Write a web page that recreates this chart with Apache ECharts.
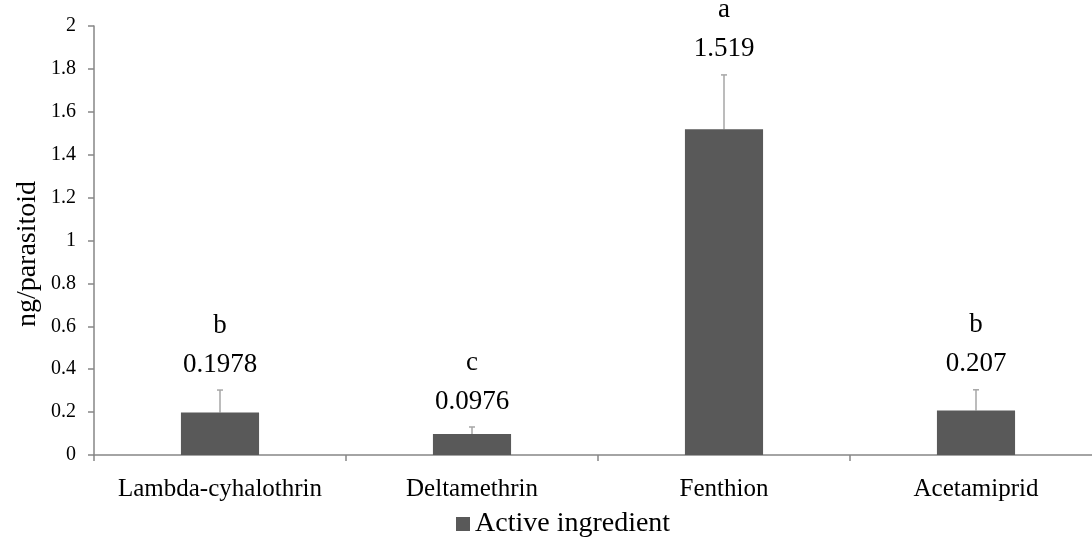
<!DOCTYPE html>
<html><head><meta charset="utf-8">
<script src="https://cdn.jsdelivr.net/npm/echarts@6/dist/echarts.min.js"></script>
<style>html,body{margin:0;padding:0;background:#fff}#c{width:1092px;height:545px}</style>
</head><body><div id="c"></div>
<script>
const categories = ['Lambda-cyhalothrin', 'Deltamethrin', 'Fenthion', 'Acetamiprid'];
const values = [0.1978, 0.0976, 1.519, 0.207];
const errors = [0.105, 0.033, 0.253, 0.097];
const letters = ['b', 'c', 'a', 'b'];
const valueLabels = ['0.1978', '0.0976', '1.519', '0.207'];
const yTitle = 'ng/parasitoid';
const legendName = 'Active ingredient';

const FONT = '"Liberation Serif", "Times New Roman", serif';
const chart = echarts.init(document.getElementById('c'));
chart.setOption({
  animation: false,
  grid: { left: 94, top: 26, width: 1008, height: 429, containLabel: false, outerBoundsMode: 'none' },
  graphic: [{
    type: 'text', x: 28, y: 254, rotation: Math.PI / 2,
    style: { text: yTitle, font: '28px ' + FONT, fill: '#000', textAlign: 'center', textVerticalAlign: 'middle' }
  }],
  legend: {
    data: [legendName], bottom: 2, left: 451,
    itemWidth: 14, itemHeight: 14, itemGap: 6,
    icon: 'rect',
    textStyle: { fontFamily: FONT, fontSize: 28, color: '#000' }
  },
  xAxis: {
    type: 'category', data: categories,
    axisLine: { lineStyle: { color: '#868686', width: 1.5 } },
    axisTick: { show: true, inside: false, length: 6, lineStyle: { color: '#868686', width: 1.5 } },
    axisLabel: { interval: 0, fontFamily: FONT, fontSize: 25, color: '#000', margin: 22 }
  },
  yAxis: {
    type: 'value', min: 0, max: 2, interval: 0.2,
    splitLine: { show: false },
    axisLine: { show: true, lineStyle: { color: '#868686', width: 1.5 } },
    axisTick: { show: true, length: 6, lineStyle: { color: '#868686', width: 1.5 } },
    axisLabel: { fontFamily: FONT, fontSize: 20, color: '#000', margin: 18,
      formatter: v => String(+v.toFixed(1)) }
  },
  series: [
    {
      name: legendName, type: 'bar', data: values, barWidth: '31%',
      itemStyle: { color: '#595959' }
    },
    {
      type: 'custom', silent: true,
      data: values.map((v, i) => [i, v, v + errors[i]]),
      renderItem: function (params, api) {
        const i = api.value(0);
        const base = api.coord([i, api.value(1)]);
        const top = api.coord([i, api.value(2)]);
        const c = '#a6a6a6';
        return {
          type: 'group',
          children: [
            { type: 'line', shape: { x1: base[0], y1: base[1], x2: top[0], y2: top[1] }, style: { stroke: c, lineWidth: 1.5 } },
            { type: 'line', shape: { x1: top[0] - 3, y1: top[1], x2: top[0] + 3, y2: top[1] }, style: { stroke: c, lineWidth: 1.5 } },
            { type: 'text', style: { text: valueLabels[i], x: top[0], y: top[1] - 12, textAlign: 'center', textVerticalAlign: 'bottom', font: '27px ' + FONT, fill: '#000' } },
            { type: 'text', style: { text: letters[i], x: top[0], y: top[1] - 51, textAlign: 'center', textVerticalAlign: 'bottom', font: '27px ' + FONT, fill: '#000' } }
          ]
        };
      }
    }
  ]
});
</script></body></html>
